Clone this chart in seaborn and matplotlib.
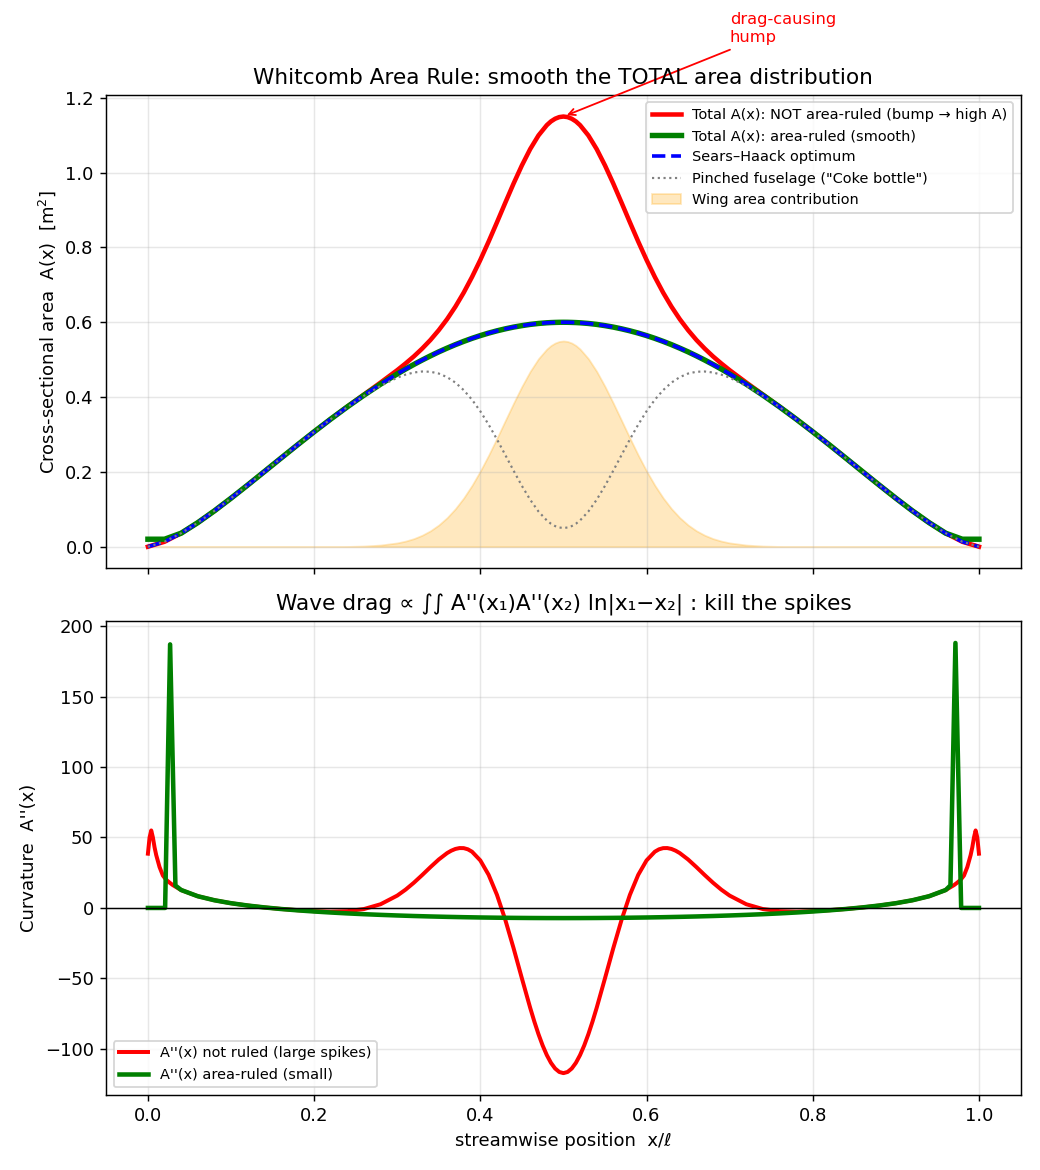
import matplotlib
matplotlib.use("Agg")
import matplotlib.pyplot as plt
import seaborn as sns

# ---- top panel: cross-sectional area A(x) ----
x_top = [0.00, 0.02, 0.04, 0.06, 0.08, 0.10, 0.12, 0.14, 0.16, 0.18, 0.20, 0.22, 0.24, 0.26, 0.28, 0.30,
         0.31, 0.32, 0.33, 0.34, 0.35, 0.36, 0.37, 0.38, 0.39, 0.40, 0.41, 0.42, 0.43, 0.44, 0.45, 0.46,
         0.47, 0.48, 0.485, 0.49, 0.495, 0.50, 0.505, 0.51, 0.515, 0.52, 0.53, 0.54, 0.55, 0.56, 0.57,
         0.58, 0.59, 0.60, 0.61, 0.62, 0.63, 0.64, 0.65, 0.66, 0.67, 0.68, 0.69, 0.70, 0.72, 0.74, 0.76,
         0.78, 0.80, 0.82, 0.84, 0.86, 0.88, 0.90, 0.92, 0.94, 0.96, 0.98, 1.00]

sears_haack = [0.0000, 0.0132, 0.0361, 0.0643, 0.0958, 0.1296, 0.1647, 0.2005, 0.2365, 0.2722, 0.3072,
               0.3412, 0.3739, 0.4051, 0.4345, 0.4619, 0.4749, 0.4872, 0.4990, 0.5102, 0.5209, 0.5308,
               0.5402, 0.5489, 0.5570, 0.5644, 0.5711, 0.5771, 0.5824, 0.5871, 0.5910, 0.5943, 0.5968,
               0.5986, 0.5992, 0.5996, 0.5999, 0.6000, 0.5999, 0.5996, 0.5992, 0.5986, 0.5968, 0.5943,
               0.5910, 0.5871, 0.5824, 0.5771, 0.5711, 0.5644, 0.5570, 0.5489, 0.5402, 0.5308, 0.5209,
               0.5102, 0.4990, 0.4872, 0.4749, 0.4619, 0.4345, 0.4051, 0.3739, 0.3412, 0.3072, 0.2722,
               0.2365, 0.2005, 0.1647, 0.1296, 0.0958, 0.0643, 0.0361, 0.0132, 0.0000]

wing_area = [0.0000, 0.0000, 0.0000, 0.0000, 0.0000, 0.0000, 0.0000, 0.0000, 0.0000, 0.0000, 0.0001,
             0.0002, 0.0006, 0.0017, 0.0044, 0.0101, 0.0149, 0.0215, 0.0306, 0.0425, 0.0580, 0.0775,
             0.1015, 0.1303, 0.1640, 0.2023, 0.2447, 0.2900, 0.3370, 0.3837, 0.4283, 0.4687, 0.5027,
             0.5284, 0.5378, 0.5445, 0.5486, 0.5500, 0.5486, 0.5445, 0.5378, 0.5284, 0.5027, 0.4687,
             0.4283, 0.3837, 0.3370, 0.2900, 0.2447, 0.2023, 0.1640, 0.1303, 0.1015, 0.0775, 0.0580,
             0.0425, 0.0306, 0.0215, 0.0149, 0.0101, 0.0044, 0.0017, 0.0006, 0.0002, 0.0001, 0.0000,
             0.0000, 0.0000, 0.0000, 0.0000, 0.0000, 0.0000, 0.0000, 0.0000, 0.0000]

total_not_ruled = [0.0000, 0.0132, 0.0361, 0.0643, 0.0958, 0.1296, 0.1647, 0.2005, 0.2365, 0.2722, 0.3073,
                   0.3414, 0.3745, 0.4068, 0.4389, 0.4720, 0.4898, 0.5087, 0.5296, 0.5527, 0.5789, 0.6083,
                   0.6417, 0.6792, 0.7210, 0.7667, 0.8158, 0.8671, 0.9194, 0.9708, 1.0193, 1.0630, 1.0995,
                   1.1270, 1.1370, 1.1441, 1.1485, 1.1500, 1.1485, 1.1441, 1.1370, 1.1270, 1.0995, 1.0630,
                   1.0193, 0.9708, 0.9194, 0.8671, 0.8158, 0.7667, 0.7210, 0.6792, 0.6417, 0.6083, 0.5789,
                   0.5527, 0.5296, 0.5087, 0.4898, 0.4720, 0.4389, 0.4068, 0.3745, 0.3414, 0.3073, 0.2722,
                   0.2365, 0.2005, 0.1647, 0.1296, 0.0958, 0.0643, 0.0361, 0.0132, 0.0000]

total_ruled = [0.0200, 0.0200, 0.0361, 0.0643, 0.0958, 0.1296, 0.1647, 0.2005, 0.2365, 0.2722, 0.3072,
               0.3412, 0.3739, 0.4051, 0.4345, 0.4619, 0.4749, 0.4872, 0.4990, 0.5102, 0.5209, 0.5308,
               0.5402, 0.5489, 0.5570, 0.5644, 0.5711, 0.5771, 0.5824, 0.5871, 0.5910, 0.5943, 0.5968,
               0.5986, 0.5992, 0.5996, 0.5999, 0.6000, 0.5999, 0.5996, 0.5992, 0.5986, 0.5968, 0.5943,
               0.5910, 0.5871, 0.5824, 0.5771, 0.5711, 0.5644, 0.5570, 0.5489, 0.5402, 0.5308, 0.5209,
               0.5102, 0.4990, 0.4872, 0.4749, 0.4619, 0.4345, 0.4051, 0.3739, 0.3412, 0.3072, 0.2722,
               0.2365, 0.2005, 0.1647, 0.1296, 0.0958, 0.0643, 0.0361, 0.0200, 0.0200]

pinched = [0.0000, 0.0132, 0.0361, 0.0643, 0.0958, 0.1296, 0.1647, 0.2005, 0.2365, 0.2722, 0.3071,
           0.3410, 0.3733, 0.4034, 0.4301, 0.4518, 0.4600, 0.4657, 0.4684, 0.4677, 0.4629, 0.4533,
           0.4387, 0.4186, 0.3930, 0.3621, 0.3264, 0.2871, 0.2454, 0.2034, 0.1627, 0.1256, 0.0941,
           0.0702, 0.0614, 0.0551, 0.0513, 0.0500, 0.0513, 0.0551, 0.0614, 0.0702, 0.0941, 0.1256,
           0.1627, 0.2034, 0.2454, 0.2871, 0.3264, 0.3621, 0.3930, 0.4186, 0.4387, 0.4533, 0.4629,
           0.4677, 0.4684, 0.4657, 0.4600, 0.4518, 0.4301, 0.4034, 0.3733, 0.3410, 0.3071, 0.2722,
           0.2365, 0.2005, 0.1647, 0.1296, 0.0958, 0.0643, 0.0361, 0.0132, 0.0000]

# ---- bottom panel: curvature A''(x) ----
x_curv_red = [0.000, 0.002, 0.004, 0.006, 0.008, 0.010, 0.014, 0.018, 0.022, 0.026, 0.030, 0.040,
              0.06, 0.08, 0.10, 0.12, 0.14, 0.16, 0.18, 0.20, 0.22, 0.24, 0.26, 0.28, 0.30,
              0.31, 0.32, 0.33, 0.34, 0.35, 0.36, 0.365, 0.37, 0.375, 0.38, 0.385, 0.39, 0.40, 0.41,
              0.42, 0.43, 0.44, 0.45, 0.46, 0.465, 0.47, 0.475, 0.48, 0.485, 0.49, 0.495, 0.50,
              0.505, 0.51, 0.515, 0.52, 0.525, 0.53, 0.535, 0.54, 0.55, 0.56, 0.57, 0.58, 0.59,
              0.60, 0.61, 0.615, 0.62, 0.625, 0.63, 0.635, 0.64, 0.65, 0.66, 0.67, 0.68, 0.69, 0.70,
              0.72, 0.74, 0.76, 0.78, 0.80, 0.82, 0.84, 0.86, 0.88, 0.90, 0.92, 0.94,
              0.960, 0.970, 0.974, 0.978, 0.982, 0.986, 0.990, 0.992, 0.994, 0.996, 0.998, 1.000]

curv_not_ruled = [38.5, 50.0, 55.0, 50.0, 43.0, 37.5, 29.0, 23.0, 20.0, 18.0, 16.2, 12.7,
                  8.32, 5.46, 3.36, 1.72, 0.38, -0.72, -1.61, -2.29, -2.60, -2.27, -0.78, 2.64, 8.76,
                  12.97, 17.89, 23.33, 28.99, 34.39, 38.92, 40.62, 41.86, 42.49, 42.44, 41.60, 39.91,
                  33.71, 23.49, 9.32, -8.34, -28.53, -49.92, -70.87, -80.62, -89.60, -97.59, -104.41,
                  -109.90, -113.93, -116.38, -117.20,
                  -116.38, -113.93, -109.90, -104.41, -97.59, -89.60, -80.62, -70.87, -49.92, -28.53,
                  -8.34, 9.32, 23.49, 33.71, 39.91, 41.60, 42.44, 42.49, 41.86, 40.62, 38.92, 34.39,
                  28.99, 23.33, 17.89, 12.97, 8.76,
                  2.64, -0.78, -2.27, -2.60, -2.29, -1.61, -0.72, 0.38, 1.72, 3.36, 5.46, 8.32,
                  12.7, 16.2, 18.0, 20.0, 23.0, 29.0, 37.5, 43.0, 50.0, 55.0, 50.0, 38.5]

x_curv_green = [0.0000, 0.0207, 0.0267, 0.0331, 0.04, 0.06, 0.08, 0.10, 0.12, 0.14, 0.16, 0.18, 0.20,
                0.22, 0.24, 0.26, 0.28, 0.30, 0.32, 0.34, 0.36, 0.38, 0.40, 0.42, 0.44, 0.46, 0.48,
                0.50, 0.52, 0.54, 0.56, 0.58, 0.60, 0.62, 0.64, 0.66, 0.68, 0.70, 0.72, 0.74, 0.76,
                0.78, 0.80, 0.82, 0.84, 0.86, 0.88, 0.90, 0.92, 0.94, 0.96, 0.9657, 0.9717, 0.9786,
                1.0000]

curv_ruled = [0.0, 0.0, 187.0, 15.9, 12.73, 8.32, 5.46, 3.36, 1.72, 0.38, -0.74, -1.69, -2.52,
              -3.24, -3.87, -4.43, -4.91, -5.34, -5.72, -6.04, -6.32, -6.56, -6.76, -6.92, -7.04,
              -7.13, -7.18, -7.20, -7.18, -7.13, -7.04, -6.92, -6.76, -6.56, -6.32, -6.04, -5.72,
              -5.34, -4.91, -4.43, -3.87, -3.24, -2.52, -1.69, -0.74, 0.38, 1.72, 3.36, 5.46,
              8.32, 12.73, 16.0, 188.0, 0.0, 0.0]


fig, (ax1, ax2) = plt.subplots(2, 1, figsize=(8, 9), dpi=130, sharex=True)

# top
sns.lineplot(x=x_top, y=total_not_ruled, ax=ax1, color='red', lw=2.5,
             label='Total A(x): NOT area-ruled (bump \u2192 high A)')
sns.lineplot(x=x_top, y=total_ruled, ax=ax1, color='green', lw=3,
             label='Total A(x): area-ruled (smooth)')
sns.lineplot(x=x_top, y=sears_haack, ax=ax1, color='blue', lw=2, ls='--',
             label='Sears\u2013Haack optimum')
sns.lineplot(x=x_top, y=pinched, ax=ax1, color='gray', lw=1.2, ls=':',
             label='Pinched fuselage ("Coke bottle")')
ax1.fill_between(x_top, 0, wing_area, color='orange', alpha=0.25,
                 label='Wing area contribution')
ax1.annotate('drag-causing\nhump', xy=(0.5, 1.15), xytext=(0.70, 1.35),
             color='red', fontsize=9,
             arrowprops=dict(arrowstyle='->', color='red', lw=1))
ax1.set_ylabel('Cross-sectional area  A(x)  [m$^2$]')
ax1.set_title('Whitcomb Area Rule: smooth the TOTAL area distribution')
ax1.legend(loc='upper right', fontsize=8)
ax1.grid(alpha=0.3)

# bottom
sns.lineplot(x=x_curv_red, y=curv_not_ruled, ax=ax2, color='red', lw=2.2,
             label="A''(x) not ruled (large spikes)")
sns.lineplot(x=x_curv_green, y=curv_ruled, ax=ax2, color='green', lw=2.5,
             label="A''(x) area-ruled (small)")
ax2.axhline(0, color='k', lw=0.8)
ax2.set_xlabel('streamwise position  x/\u2113')
ax2.set_ylabel("Curvature  A''(x)")
ax2.set_title("Wave drag \u221d \u222b\u222b A''(x\u2081)A''(x\u2082) ln|x\u2081\u2212x\u2082| : kill the spikes")
ax2.legend(loc='lower left', fontsize=8)
ax2.grid(alpha=0.3)

plt.tight_layout()
plt.savefig('out.png', dpi=130)
